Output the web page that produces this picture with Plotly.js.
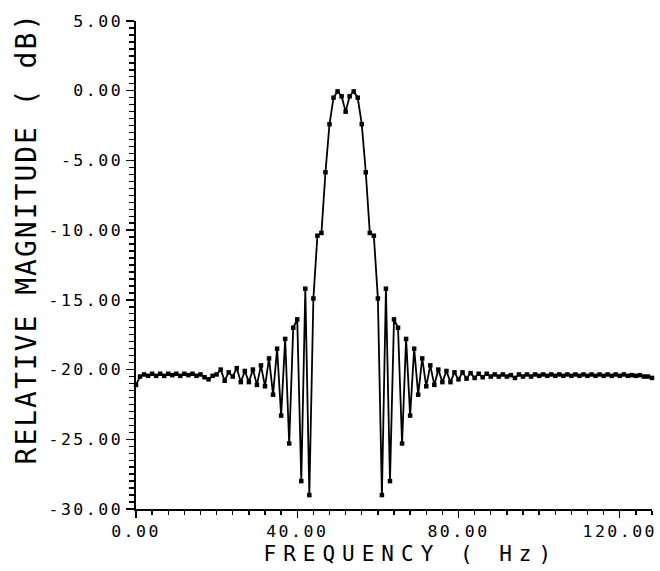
<!DOCTYPE html>
<html>
<head>
<meta charset="utf-8">
<script src="https://cdn.plot.ly/plotly-3.0.1.min.js"></script>
<style>
  html, body { margin: 0; padding: 0; background: #fff; }
  #chart { width: 660px; height: 571px; }
  .xtick text, .ytick text { letter-spacing: 2.5px; }
  .annotation[data-index="0"] text { letter-spacing: 7px; }
  .annotation[data-index="1"] text { letter-spacing: 2px; }
</style>
</head>
<body>
<div id="chart"></div>
<script>
// Frequency samples (Hz)
const frequency = [
  0, 1, 2, 3, 4, 5, 6, 7, 8, 9,
  10, 11, 12, 13, 14, 15, 16, 17, 18, 19,
  20, 21, 22, 23, 24, 25, 26, 27, 28, 29,
  30, 31, 32, 33, 34, 35, 36, 37, 38, 39,
  40, 41, 42, 43, 44, 45, 46, 47, 48, 49,
  50, 51, 52, 53, 54, 55, 56, 57, 58, 59,
  60, 61, 62, 63, 64, 65, 66, 67, 68, 69,
  70, 71, 72, 73, 74, 75, 76, 77, 78, 79,
  80, 81, 82, 83, 84, 85, 86, 87, 88, 89,
  90, 91, 92, 93, 94, 95, 96, 97, 98, 99,
  100, 101, 102, 103, 104, 105, 106, 107, 108, 109,
  110, 111, 112, 113, 114, 115, 116, 117, 118, 119,
  120, 121, 122, 123, 124, 125, 126, 127, 128
];

// Relative magnitude (dB)
const magnitude = [
  -21.1, -20.5, -20.35, -20.45, -20.3, -20.45, -20.3, -20.45, -20.3, -20.4,
  -20.3, -20.45, -20.3, -20.4, -20.3, -20.45, -20.35, -20.55, -20.7, -20.45,
  -20.35, -20.0, -20.8, -20.2, -20.5, -19.9, -20.9, -20.1, -20.9, -20.0,
  -21.1, -19.7, -21.2, -19.2, -21.8, -18.5, -23.3, -17.8, -25.3, -17.0,
  -16.4, -28.0, -14.2, -29.0, -14.9, -10.4, -10.2, -5.85, -2.4, -0.5,
  -0.05, -0.4, -1.5, -0.4, -0.05, -0.5, -2.4, -5.85, -10.2, -10.4,
  -14.9, -29.0, -14.2, -28.0, -16.4, -17.0, -25.3, -17.8, -23.3, -18.5,
  -21.8, -19.2, -21.2, -19.7, -21.1, -20.0, -20.9, -20.1, -20.9, -20.2,
  -20.7, -20.2, -20.65, -20.25, -20.6, -20.3, -20.55, -20.3, -20.5, -20.35,
  -20.5, -20.35, -20.5, -20.4, -20.6, -20.35, -20.5, -20.35, -20.5, -20.35,
  -20.45, -20.35, -20.45, -20.35, -20.45, -20.35, -20.45, -20.35, -20.45, -20.35,
  -20.45, -20.35, -20.45, -20.35, -20.45, -20.35, -20.45, -20.35, -20.45, -20.35,
  -20.45, -20.35, -20.45, -20.4, -20.45, -20.4, -20.5, -20.5, -20.6
];

// Tick labels
const xTickVals = [0, 40, 80, 120];
const xTickText = ["0.00", "40.00", "80.00", "120.00"];
const yTickVals = [5, 0, -5, -10, -15, -20, -25, -30];
const yTickText = ["5.00", "0.00", "-5.00", "-10.00", "-15.00", "-20.00", "-25.00", "-30.00"];

// Axis titles
const xTitle = "FREQUENCY ( Hz)";
const yTitle = "RELATIVE MAGNITUDE ( dB)";

const FONT = "DejaVu Sans Mono, Liberation Mono, monospace";

const trace = {
  x: frequency,
  y: magnitude,
  type: "scatter",
  mode: "lines+markers",
  line: { color: "#000", width: 1.8 },
  marker: { color: "#000", symbol: "square", size: 4.5 },
  cliponaxis: false,
  hoverinfo: "skip"
};

const layout = {
  width: 660,
  height: 571,
  margin: { l: 136, r: 8, t: 21, b: 62 },
  paper_bgcolor: "#fff",
  plot_bgcolor: "#fff",
  showlegend: false,
  font: { family: FONT, color: "#000", size: 16 },
  xaxis: {
    range: [0, 128],
    tickmode: "array",
    tickvals: xTickVals,
    ticktext: xTickText,
    ticks: "outside",
    ticklen: 7,
    tickwidth: 1.4,
    tickcolor: "#000",
    showline: true,
    linecolor: "#000",
    linewidth: 1.6,
    showgrid: false,
    zeroline: false,
    tickfont: { family: FONT, size: 16.5, color: "#000" },
    minor: { tickmode: "linear", tick0: 0, dtick: 4, ticks: "outside", ticklen: 4, tickwidth: 1.4, tickcolor: "#000", showgrid: false }
  },
  yaxis: {
    range: [-30, 5],
    tickmode: "array",
    tickvals: yTickVals,
    ticktext: yTickText,
    ticks: "outside",
    ticklen: 8,
    tickwidth: 1.4,
    tickcolor: "#000",
    showline: true,
    linecolor: "#000",
    linewidth: 1.6,
    showgrid: false,
    zeroline: false,
    tickfont: { family: FONT, size: 16.5, color: "#000" },
    minor: { tickmode: "linear", tick0: 0, dtick: 0.5, ticks: "outside", ticklen: 5, tickwidth: 1.4, tickcolor: "#000", showgrid: false }
  },
  annotations: [
    {
      text: xTitle,
      xref: "paper", yref: "paper",
      x: 0.532, y: -0.0912,
      xanchor: "center", yanchor: "middle",
      showarrow: false,
      font: { family: FONT, size: 21, color: "#000" }
    },
    {
      text: yTitle,
      xref: "paper", yref: "paper",
      x: -0.2132, y: 0.5564,
      xanchor: "center", yanchor: "middle",
      textangle: -90,
      showarrow: false,
      font: { family: FONT, size: 28, color: "#000" }
    }
  ]
};

Plotly.newPlot("chart", [trace], layout, { displayModeBar: false, staticPlot: true });
</script>
</body>
</html>
